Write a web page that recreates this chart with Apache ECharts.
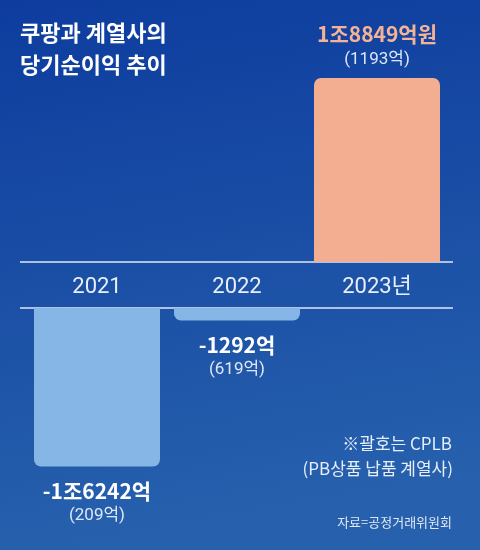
<!DOCTYPE html>
<html>
<head>
<meta charset="utf-8">
<script src="https://cdn.jsdelivr.net/npm/echarts@6/dist/echarts.min.js"></script>
<style>html,body{margin:0;padding:0;}#c{width:480px;height:550px;}</style>
</head>
<body>
<div id="c"></div>
<script>
const categories = ['2021', '2022', '2023년'];
const netIncome = [-16242, -1292, 18849];        // 억원
const cplbIncome = [209, 619, 1193];              // 억원
const valueLabels = ['-1조6242억', '-1292억', '1조8849억원'];
const cplbLabels = ['(209억)', '(619억)', '(1193억)'];

const positive = netIncome.map(v => v > 0 ? v : '-');
const negative = netIncome.map(v => v < 0 ? v : '-');

const FONT = "'Noto Sans CJK KR', 'Noto Sans', sans-serif";
const NARROW = "'Liberation Sans Narrow', 'Roboto', 'Noto Sans CJK KR', sans-serif";

const chart = echarts.init(document.getElementById('c'), null, {renderer: 'canvas'});
const scaleMax = 20000;

function labelFmt(p) {
  const i = p.dataIndex;
  const cls = netIncome[i] > 0 ? 'mp' : 'mn';
  return '{' + cls + '|' + valueLabels[i] + '}\n{s|' + cplbLabels[i] + '}';
}
const rich = {
  mp: {fontSize: 21, fontWeight: 'bold', color: '#f5b396', lineHeight: 27, fontFamily: FONT},
  mn: {fontSize: 21, fontWeight: 'bold', color: '#ffffff', lineHeight: 26, fontFamily: FONT},
  s: {fontSize: 17, color: '#dde7f5', lineHeight: 25, fontFamily: NARROW}
};

chart.setOption({
  backgroundColor: {
    type: 'linear', x: 0, y: 0, x2: 0.2, y2: 1,
    colorStops: [{offset: 0, color: '#0d3c9e'}, {offset: 1, color: '#2761ad'}]
  },
  title: {
    text: '쿠팡과 계열사의\n당기순이익 추이',
    left: 15, top: 12,
    textStyle: {color: '#ffffff', fontSize: 22, fontWeight: 'bold', lineHeight: 32, fontFamily: FONT}
  },
  grid: [
    {left: 27, right: 33, top: 66.8, height: 195.2},
    {left: 27, right: 33, top: 308, height: 195.2}
  ],
  xAxis: [
    {
      type: 'category', gridIndex: 0, data: categories,
      axisLine: {show: false}, axisTick: {show: false}, splitLine: {show: false},
      axisLabel: {color: '#e9effa', fontSize: 22, fontFamily: NARROW, margin: 14, verticalAlign: 'top'}
    },
    {
      type: 'category', gridIndex: 1, data: categories, show: false
    }
  ],
  yAxis: [
    {type: 'value', gridIndex: 0, min: 0, max: scaleMax, show: false},
    {type: 'value', gridIndex: 1, min: -scaleMax, max: 0, show: false}
  ],
  series: [
    {
      type: 'bar', xAxisIndex: 0, yAxisIndex: 0, data: positive,
      barWidth: '90%',
      itemStyle: {color: '#f3ae91', borderRadius: [7, 7, 0, 0]},
      label: {show: true, position: 'top', distance: 6, formatter: labelFmt, rich: rich, align: 'center'}
    },
    {
      type: 'bar', xAxisIndex: 1, yAxisIndex: 1, data: negative,
      barWidth: '90%',
      itemStyle: {color: '#86b6e6', borderRadius: [0, 0, 7, 7]},
      label: {show: true, position: 'bottom', distance: 11, formatter: labelFmt, rich: rich, align: 'center'}
    }
  ],
  graphic: [
    {type: 'line', shape: {x1: 20, y1: 262, x2: 453, y2: 262}, style: {stroke: '#dfe9f7', lineWidth: 1.5}, silent: true},
    {type: 'line', shape: {x1: 20, y1: 308, x2: 453, y2: 308}, style: {stroke: '#dfe9f7', lineWidth: 1.5}, silent: true},
    {type: 'text', right: 28, top: 435, style: {text: '※괄호는 CPLB', fill: '#e6eefa', font: "17px " + FONT, textAlign: 'right'}},
    {type: 'text', right: 27, top: 460, style: {text: '(PB상품 납품 계열사)', fill: '#e6eefa', font: "17px " + FONT, textAlign: 'right'}},
    {type: 'text', right: 28, top: 516, style: {text: '자료=공정거래위원회', fill: '#dfe8f5', font: "13px " + FONT, textAlign: 'right'}}
  ]
});
</script>
</body>
</html>
